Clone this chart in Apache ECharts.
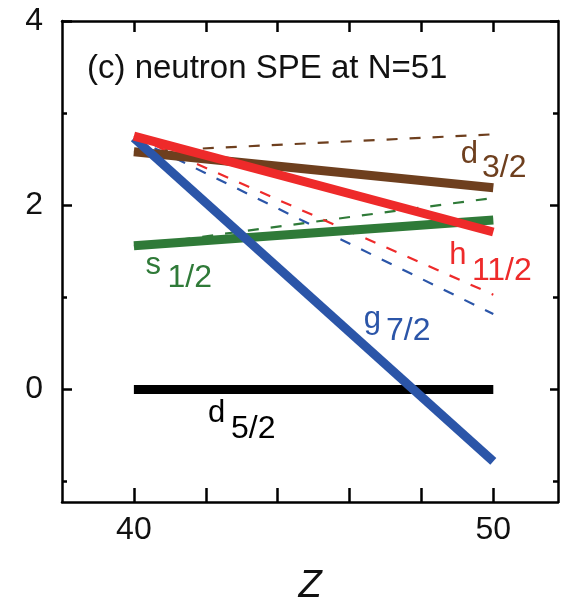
<!DOCTYPE html>
<html>
<head>
<meta charset="utf-8">
<script src="https://cdn.jsdelivr.net/npm/echarts@6/dist/echarts.min.js"></script>
<style>
html,body{margin:0;padding:0;background:#fff;}
#chart{width:564px;height:610px;}
</style>
</head>
<body>
<div id="chart"></div>
<script>
// ---- data ----
const zValues = [40, 50];
const d52 = [0, 0];
const g72 = [2.73, -0.78];
const g72Dash = [2.73, 0.82];
const h112 = [2.75, 1.71];
const h112Dash = [2.75, 1.03];
const d32 = [2.58, 2.19];
const d32Dash = [2.58, 2.77];
const s12 = [1.56, 1.84];
const s12Dash = [1.56, 2.08];

const xTickValues = [40, 42, 44, 46, 48, 50];
const xLabelValues = [40, 50];
const yMajorTicks = [0, 2, 4];
const yMinorTicks = [-1, 1, 3];
const yLabelValues = [0, 2, 4];

const titleText = '(c) neutron SPE at N=51';
const xName = 'Z';

// orbital label texts: letter, subscript
const orbitLetters = ['d', 'h', 'g', 's', 'd'];
const orbitSubs = ['3/2', '11/2', '7/2', '1/2', '5/2'];

// ---- styles / layout ----
const C = {black:'#000000', blue:'#2b55a8', red:'#ee2a2a', brown:'#6e3f1e', green:'#2f7a38'};
const FONT = 'Liberation Sans, Arial, Helvetica, sans-serif';
const labelColors = [C.brown, C.red, C.blue, C.green, C.black];
// anchor positions (data coords) for the letter and the subscript
const letterPos = [[49.08, 2.556], [48.76, 1.455], [46.38, 0.759], [40.31, 1.35], [42.05, -0.257]];
const subPos = [[49.67, 2.406], [49.39, 1.283], [47.0, 0.631], [40.92, 1.209], [42.69, -0.428]];

function pts(arr){ return zValues.map((z, i) => [z, arr[i]]); }

function lineSeries(arr, color, dashed, z){
  return {
    type: 'line', xAxisIndex: 0, yAxisIndex: 0,
    data: pts(arr), showSymbol: false, symbol: 'none', silent: true, z: z,
    lineStyle: dashed ? {color: color, width: 2.2, type: [11, 12], cap: 'butt'}
                      : {color: color, width: 9, type: 'solid', cap: 'butt'},
    animation: false
  };
}

const labelData = [];
orbitLetters.forEach((l, i) => {
  labelData.push({value: letterPos[i], label: {formatter: l, color: labelColors[i], fontSize: 31}});
  labelData.push({value: subPos[i], label: {formatter: orbitSubs[i], color: labelColors[i], fontSize: 32}});
});

const axisLineStyle = {show: true, onZero: false, lineStyle: {color: '#000', width: 2.5}};

const chart = echarts.init(document.getElementById('chart'), null, {renderer: 'canvas'});
chart.setOption({
  animation: false,
  backgroundColor: '#fff',
  textStyle: {fontFamily: FONT},
  title: {
    text: titleText, left: 87, top: 52, padding: 0,
    textStyle: {fontFamily: FONT, fontSize: 33, fontWeight: 'normal', color: '#111'}
  },
  grid: {left: 62, right: 6, top: 21, bottom: 102, containLabel: false},
  xAxis: [
    {
      type: 'value', position: 'bottom', min: 38, max: 51.8,
      axisLine: axisLineStyle,
      axisTick: {show: true, inside: true, length: 14, customValues: xTickValues, lineStyle: {color: '#000', width: 2.5}},
      axisLabel: {show: true, customValues: xLabelValues, fontSize: 32, color: '#111', margin: 12, fontFamily: FONT},
      splitLine: {show: false},
      name: xName, nameLocation: 'middle', nameGap: 65,
      nameTextStyle: {fontSize: 38, fontStyle: 'italic', color: '#111', fontFamily: FONT}
    },
    {
      type: 'value', position: 'top', min: 38, max: 51.8,
      axisLine: axisLineStyle,
      axisTick: {show: true, inside: true, length: 11, customValues: xTickValues, lineStyle: {color: '#000', width: 2.5}},
      axisLabel: {show: false},
      splitLine: {show: false}
    }
  ],
  yAxis: [
    {
      type: 'value', position: 'left', offset: 0, min: -1.22, max: 4,
      axisLine: axisLineStyle,
      axisTick: {show: true, inside: true, length: 10, customValues: yMajorTicks, lineStyle: {color: '#000', width: 2.5}},
      axisLabel: {show: true, customValues: yLabelValues, fontSize: 32, color: '#111', margin: 19, fontFamily: FONT},
      splitLine: {show: false}
    },
    {
      type: 'value', position: 'left', offset: 0, min: -1.22, max: 4,
      axisLine: {show: false, onZero: false},
      axisTick: {show: true, inside: true, length: 5, customValues: yMinorTicks, lineStyle: {color: '#000', width: 2.5}},
      axisLabel: {show: false},
      splitLine: {show: false}
    },
    {
      type: 'value', position: 'right', offset: 0, min: -1.22, max: 4,
      axisLine: axisLineStyle,
      axisTick: {show: true, inside: true, length: 8, customValues: yMajorTicks, lineStyle: {color: '#000', width: 2.5}},
      axisLabel: {show: false},
      splitLine: {show: false}
    },
    {
      type: 'value', position: 'right', offset: 0, min: -1.22, max: 4,
      axisLine: {show: false, onZero: false},
      axisTick: {show: true, inside: true, length: 5, customValues: yMinorTicks, lineStyle: {color: '#000', width: 2.5}},
      axisLabel: {show: false},
      splitLine: {show: false}
    }
  ],
  series: [
    lineSeries(d32Dash, C.brown, true, 1),
    lineSeries(s12Dash, C.green, true, 1),
    lineSeries(h112Dash, C.red, true, 1),
    lineSeries(g72Dash, C.blue, true, 1),
    lineSeries(d52, C.black, false, 2),
    lineSeries(s12, C.green, false, 3),
    lineSeries(d32, C.brown, false, 4),
    lineSeries(g72, C.blue, false, 5),
    lineSeries(h112, C.red, false, 6),
    {
      type: 'scatter', xAxisIndex: 0, yAxisIndex: 0, silent: true, z: 10,
      symbolSize: 1, itemStyle: {color: 'rgba(0,0,0,0)', opacity: 1},
      label: {show: true, position: 'right', distance: 0, fontFamily: FONT, opacity: 1},
      data: labelData, animation: false
    }
  ]
});
</script>
</body>
</html>
